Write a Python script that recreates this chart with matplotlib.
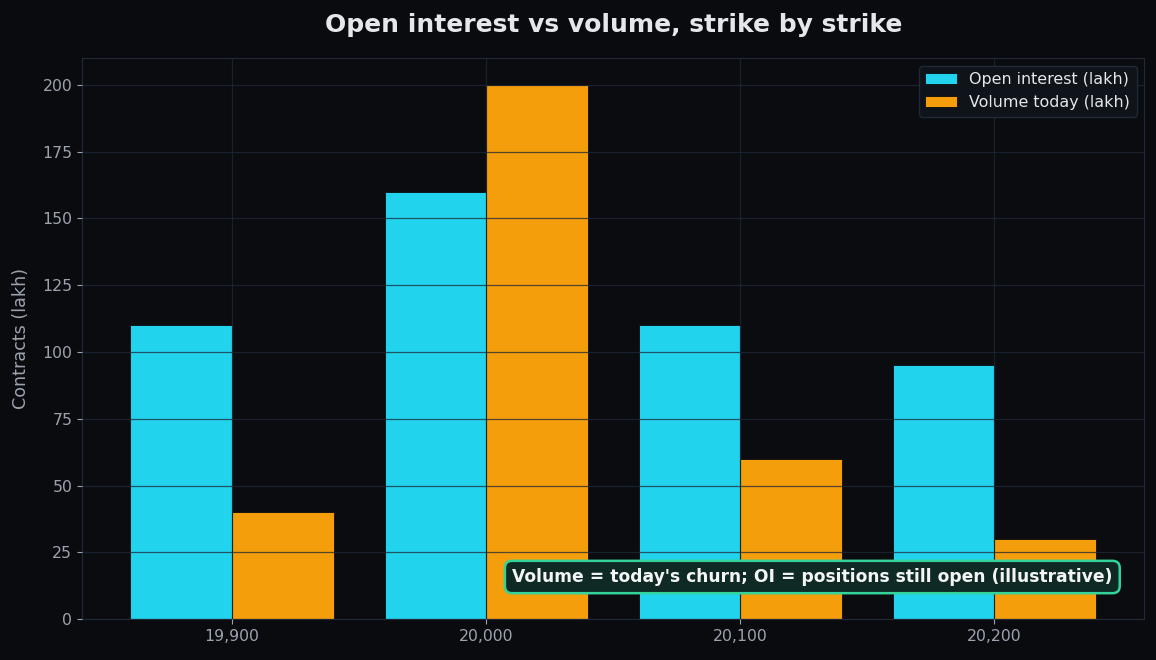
import matplotlib
matplotlib.use("Agg")
import matplotlib.pyplot as plt
import numpy as np
from matplotlib.ticker import FuncFormatter

plt.rcParams["font.family"] = ["DejaVu Sans"]

# strikes and contracts in lakh
strikes = [19900, 20000, 20100, 20200]
open_interest = [110, 160, 110, 95]
volume_today = [40, 200, 60, 30]

BG = "#0a0b0f"
CYAN = "#22d3ee"
ORANGE = "#f59e0b"
GRID = "#1f2937"
MUTED = "#9ca3af"
TEXT = "#e5e7eb"

fig, ax = plt.subplots(figsize=(11.56, 6.6), dpi=100)
fig.patch.set_facecolor(BG)
ax.set_facecolor("#0b0c10")

x = np.array(strikes, dtype=float)
w = 40
ax.bar(x - w / 2, open_interest, width=w, color=CYAN,
       edgecolor=BG, linewidth=0.6, label="Open interest (lakh)")
ax.bar(x + w / 2, volume_today, width=w, color=ORANGE,
       edgecolor=BG, linewidth=0.6, label="Volume today (lakh)")

ax.set_axisbelow(False)
ax.grid(True, color=GRID, alpha=0.75, linewidth=0.9)
ax.set_xticks(strikes)
ax.xaxis.set_major_formatter(FuncFormatter(lambda v, _: f"{int(v):,}"))

for s in ax.spines.values():
    s.set_color(GRID)
ax.tick_params(colors=MUTED, labelsize=11.3)
ax.set_ylabel("Contracts (lakh)", color=MUTED, fontsize=12.6, labelpad=9)
ax.set_title("Open interest vs volume, strike by strike", color=TEXT,
             fontsize=18, fontweight="bold", pad=19)

leg = ax.legend(loc="upper right", facecolor="#0f131a", edgecolor=GRID,
                fontsize=11.4, framealpha=1.0)
for t in leg.get_texts():
    t.set_color(TEXT)

ax.text(0.97, 0.075, "Volume = today's churn; OI = positions still open (illustrative)",
        transform=ax.transAxes, ha="right", va="center", color="#f3f4f6",
        fontsize=12.3, fontweight="bold",
        bbox=dict(boxstyle="round,pad=0.42", facecolor="#0f2a24",
                  edgecolor="#34d399", linewidth=1.8))

fig.subplots_adjust(left=0.071, right=0.99, top=0.912, bottom=0.062)
fig.savefig("out.png", dpi=100, facecolor=BG)
